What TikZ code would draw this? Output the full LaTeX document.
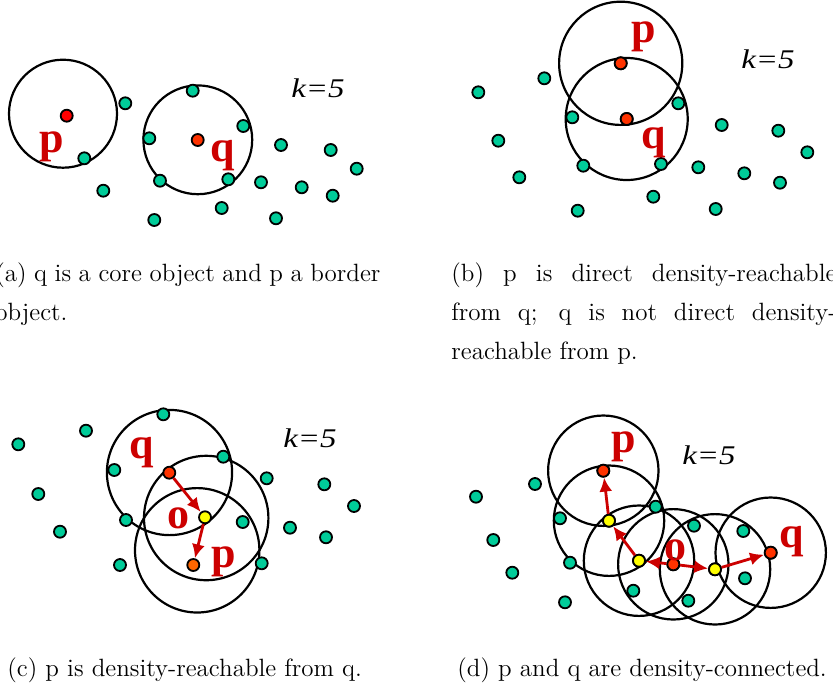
\documentclass[tikz,border=0pt]{standalone}
\usepackage{fontspec}
\newfontfamily\timesfont{Liberation Serif}
\usetikzlibrary{arrows.meta}
\definecolor{ptgreen}{HTML}{00CC99}
\definecolor{ptred}{HTML}{FF3300}
\definecolor{ptpure}{HTML}{FF0000}
\definecolor{ptorange}{HTML}{FF6600}
\definecolor{ptyellow}{HTML}{FFFF00}
\definecolor{labred}{HTML}{CC0000}
\tikzset{
  nbhood/.style   = {draw=black, line width=1.1pt},
  dot/.style      = {circle, draw=black, line width=0.9pt, minimum size=6pt,
                     inner sep=0pt},
  plainpt/.style  = {dot, fill=ptgreen},
  corept/.style   = {dot, fill=ptred},
  purept/.style   = {dot, fill=ptpure},
  borderpt/.style = {dot, fill=ptorange},
  linkpt/.style   = {dot, fill=ptyellow},
  reach/.style    = {draw=labred, line width=1.4pt,
                     -{Latex[length=7pt,width=6.5pt]}},
  ptlab/.style    = {font=\timesfont\bfseries\fontsize{22}{22}\selectfont,
                     text=labred, inner sep=0pt},
  klab/.style     = {font=\timesfont\itshape\fontsize{13.5}{13.5}\selectfont,
                     inner sep=0pt, xscale=1.22},
  caplab/.style   = {font=\fontsize{12.5}{19.5}\selectfont, inner sep=0pt,
                     align=justify, text width=192.5pt, anchor=north west},
  capline/.style  = {font=\fontsize{12.5}{19.5}\selectfont, inner sep=0pt,
                     anchor=base west},
}

\begin{document}
\begin{tikzpicture}[x=0.5pt, y=-0.5pt]
  \useasboundingbox (0,0) rectangle (833,691);

    % ---------- (a) core and border object ------------------------------
    \draw[nbhood] (63,113.7) circle[radius=27pt];
    \draw[nbhood] (197.8,139.8) circle[radius=27.2pt];
    \foreach \px/\py [count=\i] in {125.3/103.3, 84.3/158.3, 103.3/190.7,
        154.3/220, 192.7/90.7, 149.3/138.3, 243.3/126, 160/180.7,
        228.3/179.3, 221.7/208, 281/145, 261/182.3, 301.7/187.3,
        276/218.3, 330.7/150, 332.7/195.7, 356.7/168.7}
      {\node[plainpt] (a-g\i) at (\px,\py) {};}
    \node[purept] (a-p) at (66.7,115.7) {};
    \node[corept] (a-q) at (197.7,140) {};
    \node[ptlab] (a-plab) at (52,146.7) {p};
    \node[ptlab] (a-qlab) at (222.7,155.7) {q};
    \node[klab]  (a-k)    at (318,88.5) {k=5};

    % ---------- (b) direct density-reachable ----------------------------
    \node[corept] (b-p) at (620.7,63.3) {};
    \node[corept] (b-q) at (626.7,119) {};
    \draw[nbhood] (b-p) circle[radius=30.8pt];
    \draw[nbhood] (b-q) circle[radius=30.5pt];
    \foreach \px/\py [count=\i] in {544.3/78.3, 478.3/92.3, 572.3/117.3,
        678.3/103.3, 498.3/140.7, 721.7/125, 778.3/130.7, 807.3/152.3,
        519.3/177.3, 583.3/165.7, 661/164, 698.3/167.3, 744.3/173.3,
        780/182.7, 653.3/196.7, 577.7/210.7, 715.7/209}
      {\node[plainpt] (b-g\i) at (\px,\py) {};}
    \node[corept] at (b-p) {};
    \node[corept] at (b-q) {};
    \node[ptlab] (b-plab) at (644,37.3) {p};
    \node[ptlab] (b-qlab) at (653.7,143) {q};
    \node[klab]  (b-k)    at (768,59.7) {k=5};

    % ---------- (c) density-reachable -----------------------------------
    \draw[nbhood] (169.5,472.5) circle[radius=31.3pt];
    \draw[nbhood] (206.2,518) circle[radius=31.1pt];
    \draw[nbhood] (197.2,550.3) circle[radius=31.1pt];
    \foreach \px/\py [count=\i] in {163.3/414.3, 86/430.7, 18.3/444.3,
        114.3/470, 223.3/456.7, 266.7/478.3, 324.3/484.3, 38.3/494,
        354/506, 126/520, 242.7/522, 290/527.7, 60/531.7, 326/537.3,
        120/565, 261.7/563.3}
      {\node[plainpt] (c-g\i) at (\px,\py) {};}
    \node[corept]   (c-q) at (169.3,472.7) {};
    \node[linkpt]   (c-o) at (205,517.3) {};
    \node[borderpt] (c-p) at (193.3,565) {};
    \draw[reach] (c-q) -- (c-o);
    \draw[reach] (c-o) -- (c-p);
    \node[ptlab] (c-qlab) at (141.7,452.3) {q};
    \node[ptlab] (c-olab) at (178.3,518.3) {o};
    \node[ptlab] (c-plab) at (223.3,562.3) {p};
    \node[klab]  (c-k)    at (310,438.5) {k=5};

    % ---------- (d) density-connected -----------------------------------
    \node[corept] (d-p)  at (603.3,470.7) {};
    \node[linkpt] (d-y1) at (609,520.7) {};
    \node[linkpt] (d-y2) at (639,560.7) {};
    \node[corept] (d-o)  at (673.3,564.3) {};
    \node[linkpt] (d-y3) at (715,569.3) {};
    \node[corept] (d-q)  at (770.7,552.7) {};
    \foreach \c in {d-p, d-y1, d-y2, d-o, d-y3, d-q}
      {\draw[nbhood] (\c) circle[radius=27.6pt];}
    \foreach \px/\py [count=\i] in {535/484, 476/496.7, 655.7/506.7,
        560/518.3, 694/525.7, 743.3/531, 493.3/540, 570/562.7,
        745/578.3, 512.3/572.7, 633.3/590.7, 688.3/600.7, 565/602.3}
      {\node[plainpt] (d-g\i) at (\px,\py) {};}
    \node[corept] at (d-p) {};
    \node[linkpt] at (d-y1) {};
    \node[linkpt] at (d-y2) {};
    \node[corept] at (d-o) {};
    \node[linkpt] at (d-y3) {};
    \node[corept] at (d-q) {};
    \draw[reach] (d-y1) -- (d-p);
    \draw[reach] (d-y2) -- (d-y1);
    \draw[reach] (d-o) -- (d-y2);
    \draw[reach] (d-o) -- (d-y3);
    \draw[reach] (d-y3) -- (d-q);
    \node[ptlab] (d-plab) at (624,447.3) {p};
    \node[ptlab] (d-olab) at (675,550) {o};
    \node[ptlab] (d-qlab) at (791.7,541.7) {q};
    \node[klab]  (d-k)    at (709,455) {k=5};

    % ---------- captions ------------------------------------------------
    \node[caplab] (cap-a) at (-5,262)
      {(a) q is a core object and p a border\linebreak object.};
    \node[caplab] (cap-b) at (451,262)
      {(b) p is direct density-reachable\linebreak from q; q is not direct
       density-\linebreak reachable from p.};
    \node[capline] (cap-c) at (7,676) {(c) p is density-reachable from q.};
    \node[capline] (cap-d) at (457,676) {(d) p and q are density-connected.};

\end{tikzpicture}
\end{document}
